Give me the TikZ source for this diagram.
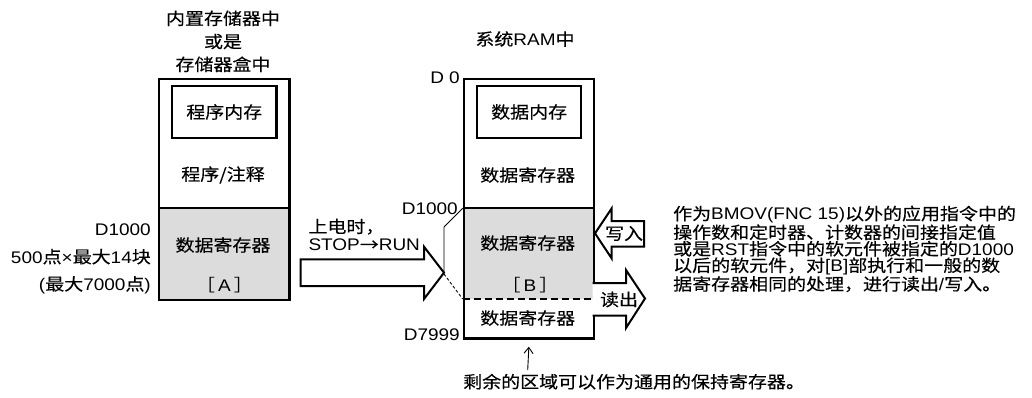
\documentclass[tikz,border=0pt]{standalone}
\usepackage{fontspec}
\setmainfont{Noto Sans CJK SC}[FakeStretch=1.13,FakeBold=0.3]
\newfontfamily\lt{Liberation Sans}[FakeStretch=1.13]
\usetikzlibrary{arrows.meta}
\definecolor{regfill}{RGB}{220,220,220}
\newcommand\La[1]{{\lt #1}}
\newcommand\Brk[1]{{\fontspec{Noto Sans CJK SC}[FakeStretch=1.13]［\hspace{3pt}}\La{#1}{\fontspec{Noto Sans CJK SC}[FakeStretch=1.13]\hspace{3pt}］}}
\begin{document}
\begin{tikzpicture}[x=1pt,y=-1pt,
  font=\fontsize{16.8}{20}\selectfont,
  frame/.style={draw, line width=2.3pt},
  hollow/.style={draw, fill=white, line width=2pt, line join=miter},
  thinline/.style={line width=0.9pt},
  lbl/.style={inner sep=0pt}]
\useasboundingbox (0,0) rectangle (1032,397);

% ---------- left memory ----------
\fill[regfill] (157.7,208.3) rectangle (288.3,299);
\node[frame, lbl, anchor=north west, minimum width=130.6pt, minimum height=221.3pt] (L) at (157.7,77.7) {};
\draw[frame] (157.7,208.3) -- (288.3,208.3);
\node[frame, lbl, anchor=north west, minimum width=104.3pt, minimum height=51.7pt] (Lin) at (171,85) {};

\node[lbl] (t1) at (223,18.3) {内置存储器中};
\node[lbl] (t2) at (223,41.5) {或是};
\node[lbl] (t3) at (223,64.3) {存储器盒中};
\node[lbl] (lp) at (Lin.center) {程序内存};
\node[lbl] (lc) at (223,175) {程序/注释};
\node[lbl] (ld) at (223,245) {数据寄存器};
\node[lbl] (la) at (224.5,285) {\Brk{A}};

\node[lbl, anchor=east] (l1) at (151,230) {\La{D1000}};
\node[lbl, anchor=east] (l2) at (151,256.7) {\La{500}点\La{×}最大\La{14}块};
\node[lbl, anchor=east] (l3) at (151,285) {\La{(}最大\La{7000}点\La{)}};

% ---------- right memory ----------
\fill[regfill] (462.7,208.3) rectangle (592.7,299);
\node[frame, lbl, anchor=north west, minimum width=130pt, minimum height=259.6pt] (R) at (462.7,77.7) {};
\draw[frame] (462.7,208.3) -- (592.7,208.3);
\draw[frame, line width=2pt, dash pattern=on 7pt off 4pt] (462.7,299) -- (592.7,299);
\node[frame, lbl, anchor=north west, minimum width=104pt, minimum height=51.7pt] (Rin) at (476,85) {};

\node[lbl] (rt) at (525,39) {系统\La{RAM}中};
\node[lbl] (rm) at (Rin.center) {数据内存};
\node[lbl] (r1) at (527.7,175) {数据寄存器};
\node[lbl] (r2) at (527.7,243) {数据寄存器};
\node[lbl] (rb) at (530,285) {\Brk{B}};
\node[lbl] (r3) at (527.7,318) {数据寄存器};

\node[lbl, anchor=east] (d0) at (460,77.5) {\La{D 0}};
\node[lbl, anchor=east] (d1) at (458,208.3) {\La{D1000}};
\node[lbl, anchor=east] (d2) at (460,335) {\La{D7999}};

% ---------- transfer arrow ----------
\draw[hollow] (300.7,259.3) -- (424,259.3) -- (424,246.7) -- (444,272.7)
   -- (424,299) -- (424,286) -- (300.7,286) -- cycle;
\coordinate (zt) at (444,227);
\coordinate (zm) at (444,272.7);
\coordinate (zb) at (444,274);
\draw[thinline] (R.north west |- 0,208.3) -- (zt) -- (zm);
\draw[thinline, dash pattern=on 3pt off 2pt] (zb) -- (R.north west |- 0,299);
\node[lbl, anchor=west] (p1) at (308.3,226.7) {上电时，};
\node[lbl, anchor=west] (p2) at (308.3,245) {\La{STOP}→\La{RUN}};

% ---------- write / read arrows ----------
\draw[hollow] (595,233.3) -- (611.7,208.3) -- (611.7,221) -- (644,221)
   -- (644,246.7) -- (611.7,246.7) -- (611.7,258.5) -- cycle;
\node[lbl] (wr) at (624,233.5) {写入};
\draw[hollow] (592.7,283) -- (626,283) -- (626,270) -- (645,298.5)
   -- (626,328) -- (626,315.5) -- (592.7,315.5);
\node[lbl] (rd) at (619,299.5) {读出};

% ---------- notes ----------
\node[lbl, anchor=north west, align=left,
      font=\fontsize{16.8}{16.5}\selectfont] (note) at (673,205.5)
 {作为\La{BMOV(FNC 15)}以外的应用指令中的\\
  操作数和定时器、计数器的间接指定值\\
  或是\La{RST}指令中的软元件被指定的\La{D1000}\\
  以后的软元件，对\La{[B]}部执行和一般的数\\
  据寄存器相同的处理，进行读出\La{/}写入。};

\node[lbl, anchor=west] (rest) at (463,381.7) {剩余的区域可以作为通用的保持寄存器。};
\draw[thinline, -{Straight Barb[length=6pt,width=9pt]}] (527.7,370) -- (R.south |- 0,346.7);
\end{tikzpicture}
\end{document}
